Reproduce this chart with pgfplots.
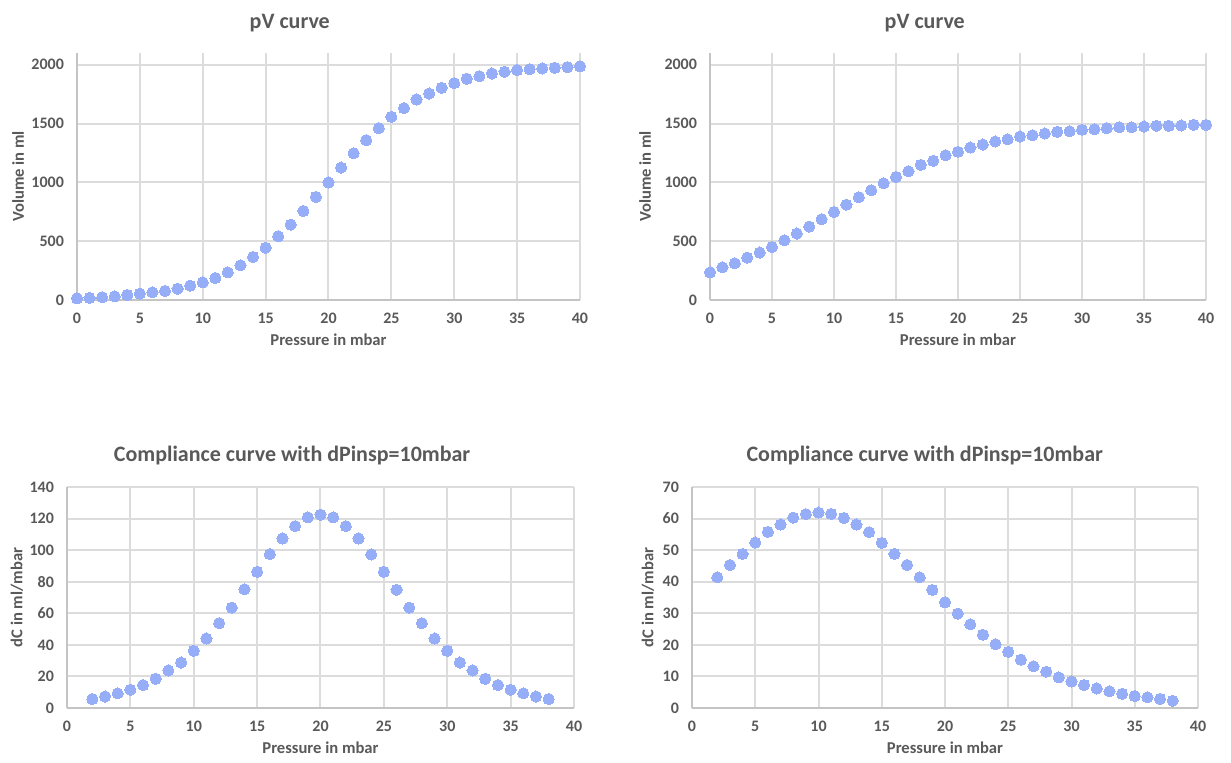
\documentclass[border=0pt]{standalone}
\usepackage{fontspec}
\setmainfont{Carlito}
\usepackage{pgfplots}
\pgfplotsset{compat=1.18}

\definecolor{dotblue}{HTML}{96ADF7}
\definecolor{gridgray}{HTML}{DCDCDC}
\definecolor{axisgray}{HTML}{C4C4C4}
\definecolor{txtgray}{HTML}{595959}

\pgfplotsset{
  chart/.style={
    scale only axis,
    xmin=0, xmax=40, ymin=0,
    xtick={0,5,...,40},
    axis x line*=bottom, axis y line*=left,
    axis line style={-, axisgray, line width=1pt},
    grid=major,
    major grid style={gridgray, line width=1pt},
    major tick length=0pt,
    /pgf/number format/assume math mode=true,
    /pgf/number format/1000 sep={},
    tick label style={font=\bfseries\fontsize{8}{9}\selectfont, text=txtgray},
    xticklabel style={yshift=-3pt},
    yticklabel style={xshift=-3pt},
    label style={font=\bfseries\fontsize{8.3}{9}\selectfont, text=txtgray},
    title style={font=\bfseries\fontsize{11}{13}\selectfont, text=txtgray, anchor=center},
    xlabel style={at={(axis description cs:0.5,0)}, anchor=center, yshift=-20pt},
  },
  dots/.style={only marks, color=dotblue, mark=*, mark size=2.8pt,
    mark options={fill=dotblue, draw=dotblue, line width=0pt}},
}

\begin{document}
\begin{tikzpicture}
\path[use as bounding box] (0,0) rectangle (615.5pt,381pt);

% top left
\begin{axis}[chart, at={(38.5pt,231pt)}, anchor=origin,
  width=251.5pt, height=123.5pt,
  ymax=2100, ytick={0,500,...,2000},
  title={pV curve}, title style={at={(axis description cs:0.423,1)}, yshift=9pt},
  xlabel={Pressure in mbar}, ylabel={Volume in ml},
  ylabel style={at={(axis description cs:-0.117,0.5)}, anchor=center},
]
\addplot[dots] coordinates {
(0,14) (1,18) (2,24) (3,31) (4,43) (5,54) (6,65) (7,77) (8,96) (9,122)
(10,150) (11,187) (12,235) (13,295) (14,366) (15,445) (16,542) (17,641) (18,757) (19,877)
(20,999) (21,1126) (22,1248) (23,1359) (24,1461) (25,1557) (26,1631) (27,1705) (28,1756) (29,1804)
(30,1844) (31,1881) (32,1903) (33,1926) (34,1940) (35,1955) (36,1963) (37,1969) (38,1974) (39,1980) (40,1987)
};
\end{axis}

% top right
\begin{axis}[chart, at={(355pt,231pt)}, anchor=origin,
  width=248pt, height=123.5pt,
  ymax=2100, ytick={0,500,...,2000},
  title={pV curve}, title style={at={(axis description cs:0.433,1)}, yshift=9pt},
  xlabel={Pressure in mbar}, ylabel={Volume in ml},
  ylabel style={at={(axis description cs:-0.131,0.5)}, anchor=center},
]
\addplot[dots] coordinates {
(0,235) (1,278) (2,312) (3,360) (4,403) (5,451) (6,508) (7,565) (8,624) (9,687)
(10,749) (11,811) (12,874) (13,933) (14,993) (15,1047) (16,1095) (17,1149) (18,1183) (19,1231)
(20,1260) (21,1296) (22,1322) (23,1348) (24,1367) (25,1390) (26,1401) (27,1416) (28,1430) (29,1435)
(30,1447) (31,1452) (32,1461) (33,1469) (34,1469) (35,1475) (36,1481) (37,1481) (38,1484) (39,1489) (40,1489)
};
\end{axis}

% bottom left
\begin{axis}[chart, at={(33.5pt,27pt)}, anchor=origin,
  width=253.5pt, height=110.5pt,
  ymax=140, ytick={0,20,...,140},
  title={Compliance curve with dPinsp=10mbar}, title style={at={(axis description cs:0.444,1)}, yshift=9.5pt},
  xlabel={Pressure in mbar}, ylabel={dC in ml/mbar},
  ylabel style={at={(axis description cs:-0.099,0.5)}, anchor=center},
]
\addplot[dots] coordinates {
(2,5.7) (3,7.3) (4,9.3) (5,11.6) (6,14.5) (7,18.5) (8,23.8) (9,28.8) (10,36.2)
(11,44) (12,53.7) (13,63.6) (14,75.2) (15,86.3) (16,97.5) (17,107.4) (18,115.2) (19,120.8) (20,122.5)
(21,120.8) (22,115.2) (23,107.4) (24,97.3) (25,86.3) (26,74.9) (27,63.6) (28,53.7) (29,44) (30,36.2)
(31,28.8) (32,23.8) (33,18.5) (34,14.5) (35,11.6) (36,9.3) (37,7.3) (38,5.7)
};
\end{axis}

% bottom right
\begin{axis}[chart, at={(346pt,27pt)}, anchor=origin,
  width=253pt, height=110.5pt,
  ymax=70, ytick={0,10,...,70},
  title={Compliance curve with dPinsp=10mbar}, title style={at={(axis description cs:0.46,1)}, yshift=9.5pt},
  xlabel={Pressure in mbar}, ylabel={dC in ml/mbar},
  ylabel style={at={(axis description cs:-0.087,0.5)}, anchor=center},
]
\addplot[dots] coordinates {
(2,41.4) (3,45.3) (4,48.8) (5,52.4) (6,55.8) (7,58.1) (8,60.3) (9,61.4) (10,61.9)
(11,61.5) (12,60.2) (13,58.1) (14,55.7) (15,52.3) (16,48.8) (17,45.3) (18,41.4) (19,37.4) (20,33.5)
(21,29.9) (22,26.5) (23,23.2) (24,20.2) (25,17.8) (26,15.3) (27,13.2) (28,11.5) (29,9.7) (30,8.4)
(31,7.3) (32,6.2) (33,5.3) (34,4.5) (35,3.8) (36,3.4) (37,2.9) (38,2.3)
};
\end{axis}
\end{tikzpicture}
\end{document}
